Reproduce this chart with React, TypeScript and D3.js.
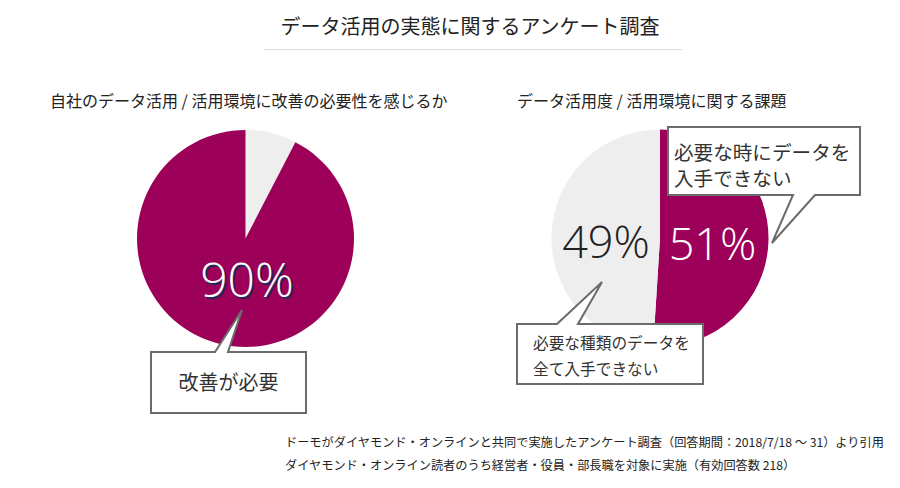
import React from "react";
import * as d3 from "d3";

const title = "データ活用の実態に関するアンケート調査";
const leftSubtitle = "自社のデータ活用 / 活用環境に改善の必要性を感じるか";
const rightSubtitle = "データ活用度 / 活用環境に関する課題";
const leftCategories = ["その他", "改善が必要"];
const leftValues = [7.6, 92.4];
const leftLabel = "90%";
const rightCategories = ["必要な時にデータを入手できない", "必要な種類のデータを全て入手できない"];
const rightValues = [51, 49];
const rightLabels = ["51%", "49%"];
const footnotes = [
  "ドーモがダイヤモンド・オンラインと共同で実施したアンケート調査（回答期間：2018/7/18 ～ 31）より引用",
  "ダイヤモンド・オンライン読者のうち経営者・役員・部長職を対象に実施（有効回答数 218）",
];

const DARK = "#9c0058";
const LIGHT = "#eeeeee";
const FONT = "'Noto Sans CJK JP', 'Noto Sans', sans-serif";
const NUMFONT = "'Open Sans', 'Noto Sans', sans-serif";

function callout(x: number, y: number, w: number, h: number, side: "top" | "bottom", p1: number, p2: number, tx: number, ty: number) {
  if (side === "top") {
    return `M${x},${y} L${p1},${y} L${tx},${ty} L${p2},${y} L${x + w},${y} L${x + w},${y + h} L${x},${y + h} Z`;
  }
  return `M${x},${y} L${x + w},${y} L${x + w},${y + h} L${p2},${y + h} L${tx},${ty} L${p1},${y + h} L${x},${y + h} Z`;
}

export default function App() {
  const r = 108.5;
  const arc = d3.arc<d3.PieArcDatum<number>>().innerRadius(0).outerRadius(r);
  const pie = d3.pie<number>().sort(null).startAngle(0).endAngle(2 * Math.PI);
  const leftArcs = pie(leftValues);
  const rightArcs = pie(rightValues);
  const leftColors = [LIGHT, DARK];
  const rightColors = [DARK, LIGHT];
  const lc = { x: 245.5, y: 238.5 };
  const rc = { x: 660, y: 238 };

  return (
    <svg width={900} height={488} style={{ position: "absolute", left: 0, top: 0, background: "#fff" }}>
      <text x={470} y={34} textAnchor="middle" fontFamily={FONT} fontSize={20} fill="#222">{title}</text>
      <line x1={264} x2={682} y1={49.5} y2={49.5} stroke="#dddddd" strokeWidth={1} />

      <text x={50} y={107} fontFamily={FONT} fontSize={16} fill="#222">{leftSubtitle}</text>
      <text x={517} y={107} fontFamily={FONT} fontSize={16} fill="#222">{rightSubtitle}</text>

      <g transform={`translate(${lc.x},${lc.y})`}>
        {leftArcs.map((a, i) => (
          <path key={leftCategories[i]} d={arc(a) || ""} fill={leftColors[i]} />
        ))}
      </g>
      <text x={248.5} y={298.5} textAnchor="middle" fontFamily={NUMFONT} fontWeight={300} fontSize={48} fill="#1d2a5c">{leftLabel}</text>
      <text x={247} y={297} textAnchor="middle" fontFamily={NUMFONT} fontWeight={300} fontSize={48} fill="#ffffff">{leftLabel}</text>

      <path d={callout(151, 352, 155, 61, "top", 215, 228, 242, 310)} fill="#fff" stroke="#6b6b6b" strokeWidth={2} />
      <text x={228.5} y={390} textAnchor="middle" fontFamily={FONT} fontSize={20} fill="#333">改善が必要</text>

      <g transform={`translate(${rc.x},${rc.y})`}>
        {rightArcs.map((a, i) => (
          <path key={rightCategories[i]} d={arc(a) || ""} fill={rightColors[i]} />
        ))}
      </g>
      <text x={712.5} y={260} textAnchor="middle" fontFamily={NUMFONT} fontWeight={300} fontSize={45} fill="#ffffff">{rightLabels[0]}</text>
      <text x={606} y={258} textAnchor="middle" fontFamily={NUMFONT} fontWeight={300} fontSize={45} fill="#222">{rightLabels[1]}</text>

      <path d={callout(668, 127, 192, 68, "bottom", 793, 815, 772, 243)} fill="#fff" stroke="#6b6b6b" strokeWidth={2} />
      <text fontFamily={FONT} fontSize={19.6} fill="#333">
        <tspan x={674} y={160}>必要な時にデータを</tspan>
        <tspan x={674} y={186}>入手できない</tspan>
      </text>

      <path d={callout(517, 324, 186, 60, "top", 557, 578, 602, 282)} fill="#fff" stroke="#6b6b6b" strokeWidth={2} />
      <text fontFamily={FONT} fontSize={15.7} fill="#333">
        <tspan x={533} y={349}>必要な種類のデータを</tspan>
        <tspan x={533} y={375}>全て入手できない</tspan>
      </text>

      <text fontFamily={FONT} fontSize={12.2} fill="#222">
        <tspan x={285} y={447}>{footnotes[0]}</tspan>
        <tspan x={285} y={470}>{footnotes[1]}</tspan>
      </text>
    </svg>
  );
}
